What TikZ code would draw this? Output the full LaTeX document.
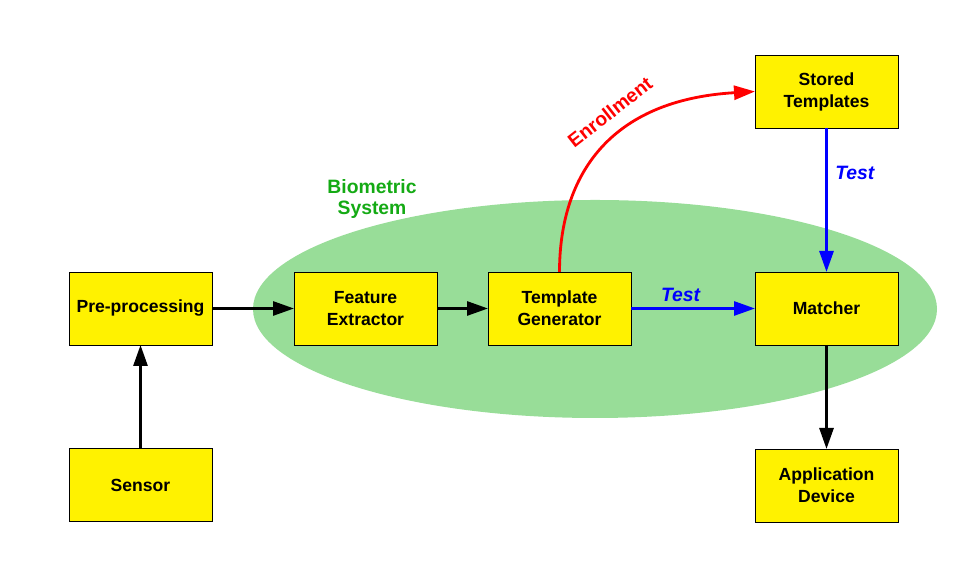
\documentclass[tikz,border=0pt]{standalone}
\usepackage{fontspec}
\setmainfont{Liberation Sans}
\usepackage{xcolor}
\usepackage{tikz}
\usetikzlibrary{arrows.meta}
\usetikzlibrary{calc}
\definecolor{sysgreen}{RGB}{152,221,152}
\definecolor{labgreen}{RGB}{20,170,20}
\begin{document}
\begin{tikzpicture}[every node/.style={inner sep=1,outer sep=0,thick},
    blk/.style={draw, line width=0.5pt, fill=yellow, minimum width=2.86cm, minimum height=1.46cm, align=center, font=\fontsize{10}{12.5}\selectfont\bfseries},
    arr/.style={line width=1.6pt, -{Triangle[length=0.42cm,width=0.28cm]}},
    tst/.style={font=\fontsize{11}{13}\selectfont\bfseries\itshape, text=blue}]
    \useasboundingbox (0,0) rectangle (19.18,11.3);
    \fill[sysgreen] (11.9,5.12) ellipse [x radius=6.84cm, y radius=2.18cm];
    \node[align=center, text=labgreen, font=\fontsize{11}{12}\selectfont\bfseries](bs) at (7.44,7.32) {Biometric\\System};

    \node[blk](pre) at (2.81,5.13) {Pre-processing};
    \node[blk](sen) at (2.81,1.6) {Sensor}; \draw[arr] (sen.north) -- (pre.south);
    \node[blk](fex) at (7.31,5.13) {Feature\\Extractor}; \draw[arr] (pre.east) -- (fex.west);
    \node[blk](tgen) at (11.19,5.13) {Template\\Generator}; \draw[arr] (fex.east) -- (tgen.west);
    \node[blk](mat) at (16.53,5.13) {Matcher}; \draw[arr, blue] (tgen.east) --node[tst, above, inner sep=4, pos=0.4]{Test} (mat.west);
    \node[blk](sto) at (16.53,9.47) {Stored\\Templates}; \draw[arr, blue] (sto.south) --node[tst, right, inner sep=5, pos=0.31]{Test} (mat.north);
    \node[blk](app) at (16.53,1.59) {Application\\Device}; \draw[arr] (mat.south) -- (app.north);

    \draw[arr, red] (tgen.north) .. controls ($(tgen.north)+(0,1.94)$) and (12.2,9.3) .. (sto.west);
    \node[rotate=38, text=red, font=\fontsize{11}{13}\selectfont\bfseries](enr) at (12.2,9.06) {Enrollment};
\end{tikzpicture}
\end{document}
